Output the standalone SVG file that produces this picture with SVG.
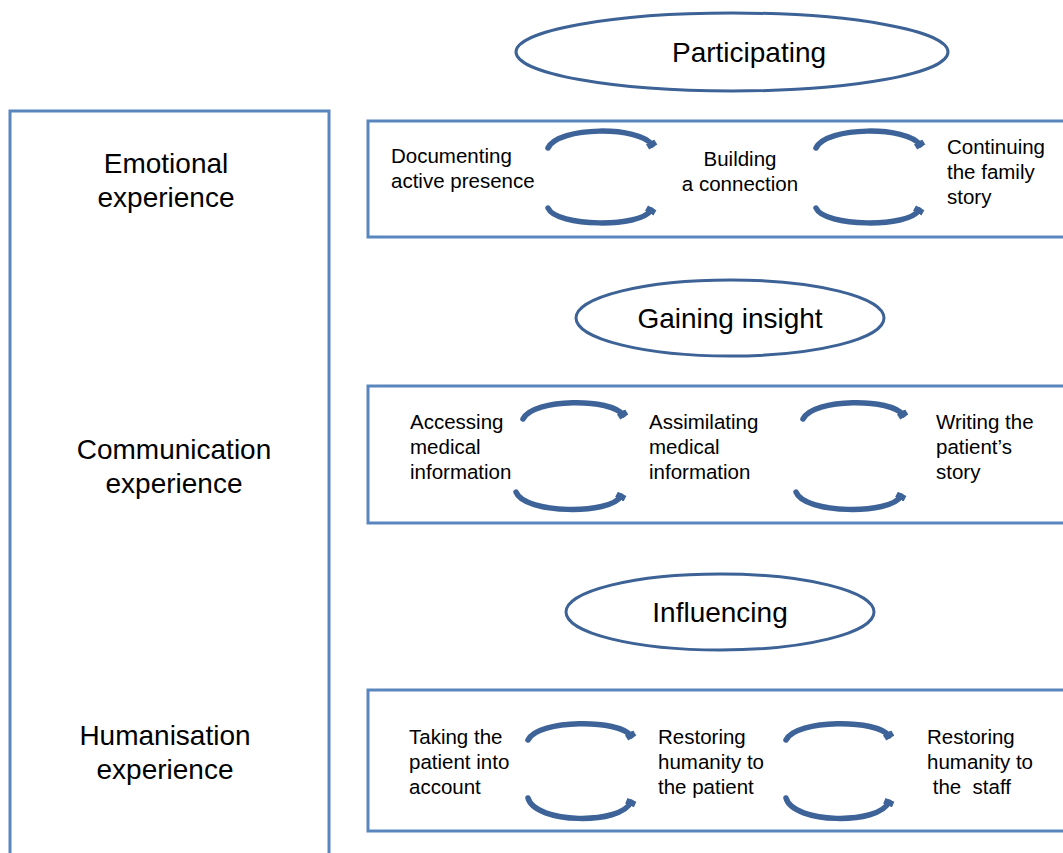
<svg xmlns="http://www.w3.org/2000/svg" width="1063" height="853" viewBox="0 0 1063 853">
<style>
.box{fill:none;stroke:#5a86be;stroke-width:3}
.ell{fill:#fff;stroke:#3d6296;stroke-width:3}
.arc{fill:none;stroke:#3d6399;stroke-width:5.5;stroke-linecap:round;marker-end:url(#cap)}
.t{font-family:"Liberation Sans",Arial,sans-serif;fill:#000}
.big{font-size:28px}
.lab{font-size:28px;text-anchor:middle}
.sm{font-size:20.5px}
</style>
<defs>
<marker id="cap" markerUnits="userSpaceOnUse" markerWidth="12" markerHeight="12" refX="3" refY="5" orient="auto" viewBox="0 0 10 10">
<rect x="0" y="1" width="5" height="8" fill="#3d6399"/>
</marker>
</defs>
<rect width="1063" height="853" fill="#fff"/>
<g id="left-panel">
<rect class="box" x="10" y="111" width="319" height="760"/>
<text class="t lab" x="166" y="173">Emotional</text>
<text class="t lab" x="166" y="207">experience</text>
<text class="t lab" x="174" y="459">Communication</text>
<text class="t lab" x="174" y="493">experience</text>
<text class="t lab" x="165" y="745">Humanisation</text>
<text class="t lab" x="165" y="779">experience</text>
</g>
<g id="participating">
<ellipse class="ell" cx="732" cy="52" rx="216" ry="39"/>
<text class="t big" x="749" y="62" text-anchor="middle">Participating</text>
</g>
<g id="gaining-insight">
<ellipse class="ell" cx="730" cy="318" rx="154" ry="38"/>
<text class="t big" x="730" y="328" text-anchor="middle">Gaining insight</text>
</g>
<g id="influencing">
<ellipse class="ell" cx="720" cy="612" rx="154" ry="38"/>
<text class="t big" x="720" y="622" text-anchor="middle">Influencing</text>
</g>
<g id="row-emotional">
<rect class="box" x="368" y="121" width="720" height="116"/>
<text class="t sm" x="391" y="163">Documenting</text>
<text class="t sm" x="391" y="188">active presence</text>
<text class="t sm" x="740" y="166" text-anchor="middle">Building</text>
<text class="t sm" x="740" y="191" text-anchor="middle">a connection</text>
<text class="t sm" x="947" y="154">Continuing</text>
<text class="t sm" x="947" y="179">the family</text>
<text class="t sm" x="947" y="204">story</text>
</g>
<g id="row-communication">
<rect class="box" x="368" y="386" width="720" height="137"/>
<text class="t sm" x="410" y="429">Accessing</text>
<text class="t sm" x="410" y="454">medical</text>
<text class="t sm" x="410" y="479">information</text>
<text class="t sm" x="649" y="429">Assimilating</text>
<text class="t sm" x="649" y="454">medical</text>
<text class="t sm" x="649" y="479">information</text>
<text class="t sm" x="936" y="429">Writing the</text>
<text class="t sm" x="936" y="454">patient’s</text>
<text class="t sm" x="936" y="479">story</text>
</g>
<g id="row-humanisation">
<rect class="box" x="368" y="690" width="720" height="141"/>
<text class="t sm" x="409" y="744">Taking the</text>
<text class="t sm" x="409" y="769">patient into</text>
<text class="t sm" x="409" y="794">account</text>
<text class="t sm" x="658" y="744">Restoring</text>
<text class="t sm" x="658" y="769">humanity to</text>
<text class="t sm" x="658" y="794">the patient</text>
<text class="t sm" x="927" y="744">Restoring</text>
<text class="t sm" x="927" y="769">humanity to</text>
<text class="t sm" x="927" y="794" xml:space="preserve"> the  staff</text>
</g>
<g id="connectors">
<path class="arc" d="M548,148 C558,126 640,126 652,145"/>
<path class="arc" d="M548,208 C556,227 641,228 651,210"/>
<path class="arc" d="M816,148 C826,126 908,126 920,145"/>
<path class="arc" d="M816,208 C824,227 909,228 919,210"/>
<path class="arc" d="M523,419 C533,398 612,398 623,415"/>
<path class="arc" d="M516,492 C524,514 611,515 621,496"/>
<path class="arc" d="M803,419 C813,398 892,398 903,415"/>
<path class="arc" d="M796,492 C804,514 891,515 901,496"/>
<path class="arc" d="M528,740 C538,719 620,719 631,736"/>
<path class="arc" d="M528,798 C535,824 621,825 631,802"/>
<path class="arc" d="M786,740 C796,719 878,719 889,736"/>
<path class="arc" d="M786,798 C793,824 879,825 889,802"/>
</g>
</svg>
